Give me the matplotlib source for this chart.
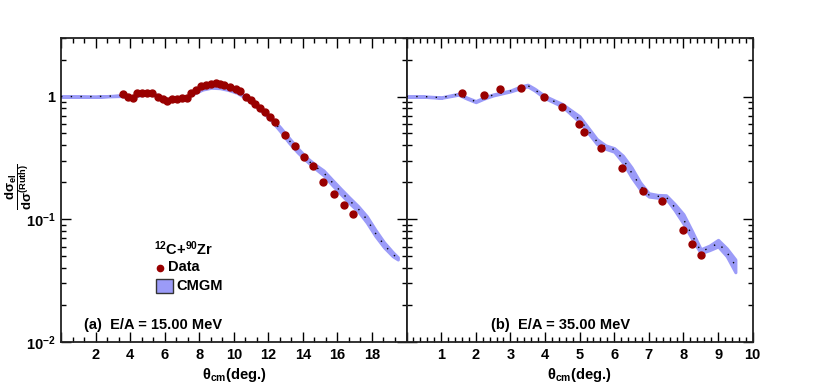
import matplotlib
matplotlib.use('Agg')
import matplotlib.pyplot as plt
from matplotlib.ticker import MultipleLocator, LogLocator, FuncFormatter, NullFormatter
from matplotlib.patches import Rectangle

# ---- panel (a): E/A = 15 MeV ----
data_a_theta = [3.57, 3.88, 4.17, 4.40, 4.71, 4.99, 5.28, 5.59, 5.88, 6.16, 6.45, 6.72,
                7.01, 7.28, 7.55, 7.83, 8.12, 8.39, 8.66, 8.97, 9.20, 9.43, 9.78, 10.12,
                10.39, 10.71, 11.00, 11.25, 11.54, 11.83, 12.12, 12.41, 12.98, 13.56,
                14.06, 14.61, 15.19, 15.78, 16.36, 16.88]
data_a_ratio = [1.04, 1.00, 0.976, 1.07, 1.07, 1.07, 1.07, 1.00, 0.963, 0.92, 0.95, 0.96,
                0.97, 0.97, 1.07, 1.14, 1.21, 1.25, 1.27, 1.28, 1.26, 1.25, 1.20, 1.16,
                1.11, 1.00, 0.945, 0.865, 0.81, 0.745, 0.68, 0.62, 0.49, 0.393,
                0.324, 0.273, 0.201, 0.162, 0.130, 0.111]

model_a_theta = [0, 1, 2, 3, 3.5, 4, 4.5, 5, 5.5, 6, 6.3, 6.8, 7.3, 7.7, 8.2, 8.7, 9.2,
                 9.7, 10.2, 10.7, 11.2, 11.7, 12.2, 12.7, 13.2, 13.7, 14.2, 14.7, 15.2,
                 15.7, 16.2, 16.7, 17.2, 17.7, 18.2, 18.7, 19.2, 19.5]
model_a_mid = [1.0, 1.0, 1.0, 1.01, 1.02, 0.99, 1.03, 1.05, 1.03, 0.96, 0.94, 0.96, 1.0,
               1.07, 1.15, 1.2, 1.19, 1.15, 1.09, 0.99, 0.87, 0.76, 0.65, 0.54, 0.44,
               0.365, 0.31, 0.27, 0.24, 0.2, 0.168, 0.142, 0.122, 0.1, 0.077, 0.062,
               0.052, 0.048]
model_a_low = [1.0, 1.0, 0.995, 1.005, 1.01, 0.98, 1.02, 1.04, 1.02, 0.95, 0.93, 0.95,
               0.99, 1.06, 1.14, 1.18, 1.17, 1.13, 1.07, 0.97, 0.85, 0.74, 0.63, 0.52,
               0.42, 0.35, 0.30, 0.26, 0.228, 0.19, 0.16, 0.135, 0.116, 0.094, 0.073,
               0.059, 0.05, 0.047]
model_a_up = [1.0, 1.0, 1.0, 1.015, 1.03, 1.0, 1.04, 1.06, 1.04, 0.97, 0.95, 0.97, 1.01,
              1.08, 1.16, 1.22, 1.21, 1.17, 1.11, 1.01, 0.89, 0.78, 0.67, 0.56, 0.46,
              0.38, 0.32, 0.28, 0.25, 0.21, 0.177, 0.15, 0.128, 0.106, 0.082, 0.065,
              0.054, 0.049]

# ---- panel (b): E/A = 35 MeV ----
data_b_theta = [1.60, 2.25, 2.71, 3.31, 3.98, 4.49, 4.99, 5.14, 5.63, 6.23, 6.82, 7.39,
                8.00, 8.24, 8.50]
data_b_ratio = [1.06, 1.02, 1.16, 1.18, 1.00, 0.818, 0.60, 0.518, 0.381, 0.26, 0.17,
                0.14, 0.082, 0.063, 0.051]

model_b_theta = [0, 0.5, 1.0, 1.5, 1.75, 2.0, 2.25, 2.5, 3.0, 3.3, 3.5, 3.7, 4.0, 4.5,
                 5.0, 5.5, 5.75, 6.0, 6.25, 6.5, 6.75, 7.0, 7.25, 7.5, 7.75, 8.0, 8.25,
                 8.5, 8.75, 9.0, 9.25, 9.5]
model_b_mid = [1.0, 1.0, 0.98, 1.045, 0.97, 0.91, 0.975, 1.03, 1.11, 1.19, 1.23, 1.14,
               0.99, 0.85, 0.65, 0.43, 0.39, 0.37, 0.31, 0.24, 0.188, 0.158, 0.154,
               0.152, 0.125, 0.1, 0.074, 0.055, 0.058, 0.064, 0.054, 0.042]
model_b_low = [0.995, 0.995, 0.975, 1.035, 0.96, 0.9, 0.965, 1.02, 1.10, 1.17, 1.21,
               1.12, 0.97, 0.83, 0.62, 0.41, 0.375, 0.355, 0.29, 0.22, 0.175, 0.153,
               0.15, 0.147, 0.118, 0.092, 0.069, 0.053, 0.056, 0.06, 0.05, 0.037]
model_b_up = [1.005, 1.005, 0.985, 1.055, 0.98, 0.92, 0.985, 1.04, 1.12, 1.21, 1.25,
              1.16, 1.01, 0.87, 0.69, 0.45, 0.40, 0.38, 0.33, 0.265, 0.20, 0.163, 0.158,
              0.157, 0.133, 0.11, 0.08, 0.057, 0.061, 0.068, 0.058, 0.047]

panel_labels = ['(a)  E/A = 15.00 MeV', '(b)  E/A = 35.00 MeV']
ytick_vals = [0.01, 0.1, 1]
ytick_text = ['$10^{-2}$', '$10^{-1}$', '1']

DATA_COLOR = '#990000'
BAND_COLOR = '#9b9bf8'

plt.rcParams['font.family'] = ['Liberation Sans', 'DejaVu Sans']
plt.rcParams['font.weight'] = 'bold'
plt.rcParams['axes.labelweight'] = 'bold'
plt.rcParams['mathtext.fontset'] = 'custom'
plt.rcParams['mathtext.rm'] = 'Liberation Sans'
plt.rcParams['mathtext.bf'] = 'Liberation Sans:bold'
plt.rcParams['mathtext.it'] = 'Liberation Sans:italic'
plt.rcParams['mathtext.default'] = 'bf'

fig = plt.figure(figsize=(8.14, 3.89), dpi=100)
W, H = 814.0, 389.0
bottom = 1 - 342 / H
height = (342 - 38) / H
ax_a = fig.add_axes([61 / W, bottom, (406.5 - 61) / W, height])
ax_b = fig.add_axes([406.5 / W, bottom, (752.7 - 406.5) / W, height])


def draw_panel(ax, th, low, up, mid, dx, dy):
    ax.fill_between(th, low, up, color=BAND_COLOR, edgecolor=BAND_COLOR, lw=2.2, zorder=2)
    ax.plot(th, mid, color='black', ls=(0, (1, 6)), lw=1.0, zorder=3)
    ax.plot(dx, dy, 'o', color=DATA_COLOR, ms=5.0, mec=DATA_COLOR, zorder=4)


draw_panel(ax_a, model_a_theta, model_a_low, model_a_up, model_a_mid,
           data_a_theta, data_a_ratio)
draw_panel(ax_b, model_b_theta, model_b_low, model_b_up, model_b_mid,
           data_b_theta, data_b_ratio)

ax_a.set_xlim(0, 20)
ax_b.set_xlim(0, 10)
ax_a.xaxis.set_major_locator(MultipleLocator(2))
ax_a.xaxis.set_minor_locator(MultipleLocator(2 / 3))
ax_b.xaxis.set_major_locator(MultipleLocator(1))
ax_b.xaxis.set_minor_locator(MultipleLocator(0.2))
ax_a.xaxis.set_major_formatter(FuncFormatter(lambda v, p: '' if v < 0.5 or v > 19.5 else '%d' % round(v)))
ax_b.xaxis.set_major_formatter(FuncFormatter(lambda v, p: '' if v < 0.5 else '%d' % round(v)))

for ax in (ax_a, ax_b):
    ax.set_yscale('log')
    ax.set_ylim(0.01, 3)
    ax.yaxis.set_major_locator(LogLocator(base=10, numticks=10))
    ax.yaxis.set_minor_locator(LogLocator(base=10, subs=range(2, 10), numticks=20))
    ax.yaxis.set_minor_formatter(NullFormatter())
    ax.tick_params(which='both', direction='in', top=True, right=True, width=1.0,
                   labelsize=10.5, pad=4)
    ax.tick_params(which='major', length=7.5)
    ax.tick_params(which='minor', length=3.8)
    for s in ax.spines.values():
        s.set_linewidth(1.3)
        s.set_color('#222222')
    ax.set_xlabel(r'$\mathrm{\theta}_{cm}$(deg.)', fontsize=10.5, labelpad=3)

ax_a.yaxis.set_major_formatter(FuncFormatter(
    lambda v, p: dict(zip(ytick_vals, ytick_text)).get(round(v, 4), '')))
ax_b.yaxis.set_major_formatter(NullFormatter())

fig.text(19 / W, 1 - 187 / H, r'$\dfrac{d\sigma_{el}}{d\sigma^{(Ruth)}}$', rotation=90,
         fontsize=9.5, ha='center', va='center')

ax_a.text(0.0666, 0.056, panel_labels[0], transform=ax_a.transAxes, fontsize=10.5,
          ha='left', va='center')
ax_b.text(0.244, 0.056, panel_labels[1], transform=ax_b.transAxes, fontsize=10.5,
          ha='left', va='center')

# legend (built by hand, ROOT style)
ax_a.text(0.3546, 0.306, r'$^{12}$C+$^{90}$Zr', transform=ax_a.transAxes, fontsize=10.5,
          ha='center', va='center')
ax_a.plot([0.2865], [0.245], 'o', color=DATA_COLOR, ms=4.5, transform=ax_a.transAxes)
ax_a.text(0.31, 0.247, 'Data', transform=ax_a.transAxes, fontsize=10.5, ha='left',
          va='center')
ax_a.add_patch(Rectangle((0.275, 0.161), 0.049, 0.046, transform=ax_a.transAxes,
                         facecolor=BAND_COLOR, edgecolor='#333333', lw=1.0))
ax_a.text(0.335, 0.184, 'CMGM', transform=ax_a.transAxes, fontsize=10.5, ha='left',
          va='center')

fig.savefig('out.png', dpi=100)
